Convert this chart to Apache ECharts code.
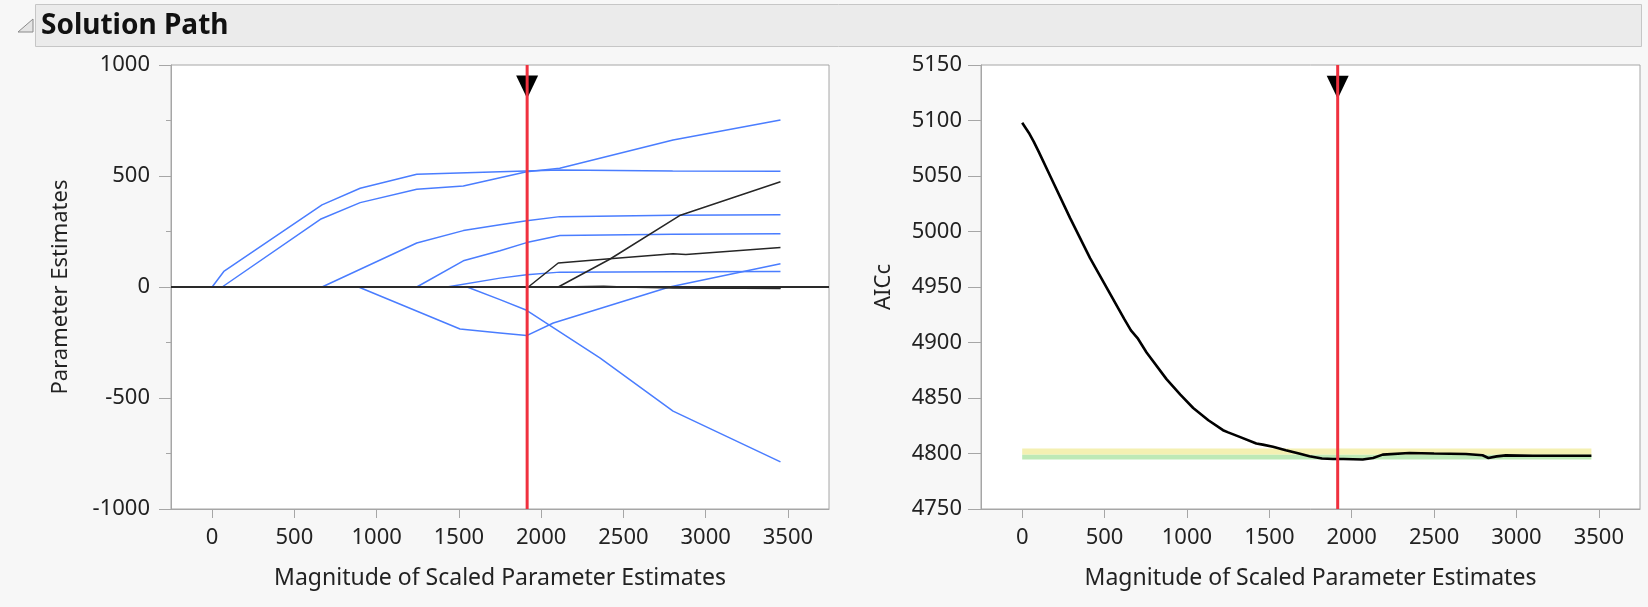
<!DOCTYPE html>
<html>
<head>
<meta charset="utf-8">
<script src="https://cdn.jsdelivr.net/npm/echarts@6/dist/echarts.min.js"></script>
<style>
  html, body { margin: 0; padding: 0; background: #f7f7f7; }
  #chart { width: 1648px; height: 607px; }
</style>
</head>
<body>
<div id="chart"></div>
<script>
// Tick values shown on both horizontal axes
const xTicks = [0, 500, 1000, 1500, 2000, 2500, 3000, 3500];

// Chosen model along the path
const selectedMagnitude = 1915;

// Parameter estimate paths: [magnitude of scaled estimates, estimate]
const pathA = [[0,0],[71,70],[668,370],[900,445],[1244,508],[1750,519],[2113,527],[2800,522],[3455,521]];
const pathB = [[61,0],[658,305],[900,380],[1244,440],[1527,455],[1912,519],[2113,535],[2802,662],[3455,752]];
const pathC = [[668,0],[1244,198],[1527,254],[1750,280],[1912,298],[2114,317],[2800,323],[3455,325]];
const pathD = [[1244,0],[1527,118],[1750,163],[1912,200],[2114,232],[2800,238],[3455,240]];
const pathE = [[1427,0],[1750,40],[1912,55],[2114,67],[2800,69],[3455,70]];
const pathF = [[890,0],[1507,-189],[1750,-207],[1912,-219],[2074,-162],[2780,0],[3455,105]];
const pathG = [[1550,0],[1750,-57],[1912,-105],[2357,-319],[2802,-559],[3455,-788]];
const pathH = [[2104,0],[2417,125],[2842,322],[3455,474]];
const pathI = [[1922,0],[2104,108],[2417,127],[2802,150],[2880,146],[3455,178]];
const pathJ = [[2104,0],[2380,3],[2500,0],[2800,-4],[3455,-6]];
const pathK = [[2700,0],[3000,-5],[3455,-7]];

const bluePaths = [pathA, pathB, pathC, pathD, pathE, pathF, pathG];
const blackPaths = [pathH, pathI, pathJ, pathK];

// AICc along the path: [magnitude, AICc]
const aicc = [
  [0,5098],[40,5089],[70,5081],[100,5072],[170,5050],[291,5012],[412,4976],[533,4944],
  [620,4921],[660,4911],[700,4904],[755,4891],[876,4867],[960,4853],[1038,4841],[1130,4830],[1219,4821],
  [1250,4819],[1320,4815],[1421,4809],[1460,4808],[1522,4806],[1600,4803],[1680,4800],[1744,4797.5],
  [1820,4795.5],[1886,4795],[1950,4795],[2067,4794.6],[2130,4796],[2188,4799],[2350,4800.4],[2500,4800],
  [2693,4799.6],[2794,4798.4],[2830,4796],[2880,4797.4],[2936,4798.3],[3100,4798],[3300,4798],[3455,4798]
];

// AICc comparison zones
const greenZone = [4794.6, 4798.8];
const yellowZone = [4798.8, 4804.4];

const estRange = [-1000, 1000];
const aiccRange = [4750, 5150];

const FONT = 'Noto Sans';
const BLUE = '#4a7dff';
const DARK = '#262626';
const RED = '#f0313f';
const GRAY = '#a6a6a6';
const DOWN_TRIANGLE = 'path://M0,0L10,0L5,10Z';
const plain = v => String(v);

function xAxisFor(gridIndex) {
  return {
    type: 'value', gridIndex,
    min: -250, max: 3750,
    name: 'Magnitude of Scaled Parameter Estimates',
    nameLocation: 'middle', nameGap: 58,
    nameTextStyle: { fontFamily: FONT, fontSize: 23, color: '#222' },
    axisLine: { show: true, onZero: false, lineStyle: { color: GRAY } },
    axisTick: { show: true, length: 9, customValues: xTicks, lineStyle: { color: GRAY } },
    axisLabel: { customValues: xTicks, formatter: plain, margin: 18, fontFamily: FONT, fontSize: 22, color: '#222' },
    splitLine: { show: false }
  };
}

const option = {
  animation: false,
  backgroundColor: '#f7f7f7',
  graphic: [
    {
      type: 'rect', shape: { x: 35.5, y: 4.5, width: 1606, height: 42 },
      style: { fill: '#ebebeb', stroke: '#c6c6c6', lineWidth: 1 }
    },
    {
      type: 'polygon', shape: { points: [[18, 32], [33, 32], [33, 19]] },
      style: { fill: '#e4e4e4', stroke: '#8a8a8a', lineWidth: 1 }
    },
    {
      type: 'text', x: 41, y: 26,
      style: { text: 'Solution Path', fontFamily: FONT, fontWeight: 'bold', fontSize: 28, fill: '#111', verticalAlign: 'middle' }
    }
  ],
  grid: [
    { left: 171, top: 65, width: 658, height: 444, show: true, backgroundColor: '#fff', borderColor: GRAY, borderWidth: 1 },
    { left: 981, top: 65, width: 659, height: 444, show: true, backgroundColor: '#fff', borderColor: GRAY, borderWidth: 1 }
  ],
  xAxis: [xAxisFor(0), xAxisFor(1)],
  yAxis: [
    {
      type: 'value', gridIndex: 0,
      min: estRange[0], max: estRange[1], interval: 500,
      name: 'Parameter Estimates', nameLocation: 'middle', nameGap: 99,
      nameTextStyle: { fontFamily: FONT, fontSize: 22, color: '#222' },
      axisLine: { show: true, onZero: false, lineStyle: { color: GRAY } },
      axisTick: { show: true, length: 12, lineStyle: { color: GRAY } },
      minorTick: { show: true, splitNumber: 2, length: 5, lineStyle: { color: GRAY } },
      axisLabel: { formatter: plain, margin: 21, fontFamily: FONT, fontSize: 22, color: '#222' },
      splitLine: { show: false }
    },
    {
      type: 'value', gridIndex: 1,
      min: aiccRange[0], max: aiccRange[1], interval: 50,
      name: 'AICc', nameLocation: 'middle', nameGap: 86,
      nameTextStyle: { fontFamily: FONT, fontSize: 22, color: '#222' },
      axisLine: { show: true, onZero: false, lineStyle: { color: GRAY } },
      axisTick: { show: true, length: 13, lineStyle: { color: GRAY } },
      axisLabel: { formatter: plain, margin: 19, fontFamily: FONT, fontSize: 22, color: '#222' },
      splitLine: { show: false }
    }
  ],
  series: []
};

// Zero reference line in the estimates panel
option.series.push({
  type: 'line', xAxisIndex: 0, yAxisIndex: 0, data: [], silent: true, z: 2,
  markLine: {
    silent: true, symbol: ['none', 'none'], label: { show: false },
    lineStyle: { color: '#2a2a2a', width: 2, type: 'solid' },
    data: [{ yAxis: 0 }]
  }
});

bluePaths.forEach(p => option.series.push({
  type: 'line', xAxisIndex: 0, yAxisIndex: 0, data: p, symbol: 'none', silent: true, z: 3,
  lineStyle: { color: BLUE, width: 1.5 }
}));
blackPaths.forEach(p => option.series.push({
  type: 'line', xAxisIndex: 0, yAxisIndex: 0, data: p, symbol: 'none', silent: true, z: 3,
  lineStyle: { color: DARK, width: 1.5 }
}));

// AICc curve with the comparison zones behind it
const aiccStart = aicc[0][0];
const aiccEnd = aicc[aicc.length - 1][0];
option.series.push({
  type: 'line', xAxisIndex: 1, yAxisIndex: 1, data: aicc, symbol: 'none', silent: true, z: 3,
  lineStyle: { color: '#000', width: 2.6 },
  markArea: {
    silent: true,
    data: [
      [{ xAxis: aiccStart, yAxis: yellowZone[0], itemStyle: { color: '#f4f0b2' } }, { xAxis: aiccEnd, yAxis: yellowZone[1] }],
      [{ xAxis: aiccStart, yAxis: greenZone[0], itemStyle: { color: '#bde9b6' } }, { xAxis: aiccEnd, yAxis: greenZone[1] }]
    ]
  }
});

// Selected-model marker in each panel
[[0, estRange, 901], [1, aiccRange, 5130]].forEach(([gi, range, markY]) => option.series.push({
  type: 'line', xAxisIndex: gi, yAxisIndex: gi, symbol: 'none', silent: true, z: 6,
  data: [[selectedMagnitude, range[0]], [selectedMagnitude, range[1]]],
  lineStyle: { color: RED, width: 3 },
  markPoint: {
    silent: true, symbol: DOWN_TRIANGLE, symbolSize: [22, 23],
    itemStyle: { color: '#000' }, label: { show: false },
    data: [{ coord: [selectedMagnitude, markY] }]
  }
}));

const chart = echarts.init(document.getElementById('chart'), null, { renderer: 'canvas' });
chart.setOption(option);
</script>
</body>
</html>
